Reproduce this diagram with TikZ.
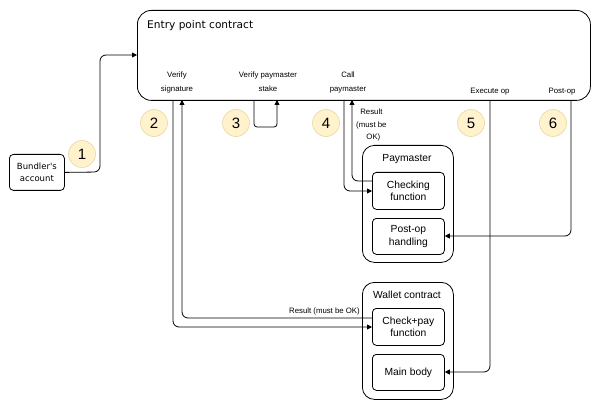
\documentclass[tikz,border=0pt]{standalone}
\usepackage{fontspec}
\setmainfont{Liberation Sans}
\newfontfamily\dvs{DejaVu Sans}
\usetikzlibrary{arrows.meta}
\definecolor{numfill}{HTML}{FFF2CC}
\definecolor{numdraw}{HTML}{E8D9A0}
\tikzset{
  box/.style={draw=black, line width=0.8pt, rounded corners=6pt, align=center, inner sep=0pt},
  inbox/.style={draw=black, line width=0.8pt, rounded corners=4pt, align=center, inner sep=0pt, font=\fontsize{10.3}{12.5}\selectfont},
  num/.style={circle, fill=numfill, draw=numdraw, line width=0.6pt, minimum size=27pt, inner sep=0pt, font=\fontsize{15}{15}\selectfont},
  lbl/.style={font=\fontsize{7.8}{14}\selectfont, align=center, inner sep=0pt},
  conn/.style={draw=black, line width=0.8pt, rounded corners=6pt, -{Triangle[length=5pt,width=5pt]}},
  connr/.style={draw=black, line width=0.8pt, rounded corners=3pt, -{Triangle[length=5pt,width=5pt]}},
}
\begin{document}
\begin{tikzpicture}[x=1pt,y=-1pt]
\useasboundingbox (0,0) rectangle (600,409);
% entry point
\node[box, rounded corners=14pt, minimum width=453pt, minimum height=90pt, anchor=north west] (ep) at (137,10) {};
\node[anchor=north west, inner sep=0pt, font=\dvs\fontsize{10.6}{13}\selectfont] (eptitle) at (147,20) {Entry point contract};
\node[lbl] (vsig) at (177,82) {Verify\\signature};
\node[lbl] (vstake) at (268,82) {Verify paymaster\\stake};
\node[lbl] (callpm) at (348,82) {Call\\paymaster};
\node[lbl] (exop) at (490,92) {Execute op};
\node[lbl] (postop) at (562,92) {Post-op};
% bundler
\node[box, rounded corners=4pt, minimum width=55pt, minimum height=36pt, anchor=north west, font=\dvs\fontsize{8.5}{12}\selectfont] (bund) at (9,154) {Bundler's\\account};
% numbers
\node[num] (n1) at (82,154) {1};
\node[num] (n2) at (154,123) {2};
\node[num] (n3) at (236,123) {3};
\node[num] (n4) at (326,123) {4};
\node[num] (n5) at (471,123) {5};
\node[num] (n6) at (553,123) {6};
% paymaster
\node[box, rounded corners=12pt, minimum width=91pt, minimum height=117pt, anchor=north west] (pm) at (362,145) {};
\node[font=\fontsize{10.3}{12}\selectfont, inner sep=0pt] (pmt) at (407,159) {Paymaster};
\node[inbox, minimum width=72pt, minimum height=37pt, anchor=north west] (chk) at (372,172) {Checking\\function};
\node[inbox, minimum width=72pt, minimum height=36pt, anchor=north west] (poh) at (372,218) {Post-op\\handling};
% wallet
\node[box, rounded corners=12pt, minimum width=91pt, minimum height=117pt, anchor=north west] (wal) at (362,282) {};
\node[font=\fontsize{10.3}{12}\selectfont, inner sep=0pt] (walt) at (407,295) {Wallet contract};
\node[inbox, minimum width=72pt, minimum height=37pt, anchor=north west] (cp) at (372,308) {Check+pay\\function};
\node[inbox, minimum width=72pt, minimum height=36pt, anchor=north west] (mb) at (372,354) {Main body};
% connectors
\draw[conn] (bund.east) -- (100,172) -- (100,55) -- (ep.west |- 0,55);
\draw[conn] (173,100) -- (173,327) -- (cp.west |- 0,327);
\draw[conn] (cp.west |- 0,318) -- (182,318) -- (182,100);
\node[lbl, anchor=south east] (res1) at (360,315) {Result (must be OK)};
\draw[connr] (254,100) -- (254,127) -- (277,127) -- (277,100);
\draw[conn] (344,100) -- (344,191) -- (chk.west |- 0,191);
\draw[conn] (chk.west |- 0,181) -- (352,181) -- (352,100);
\node[lbl, font=\fontsize{7.8}{12.5}\selectfont, anchor=north west] (res2) at (356,109) {Result\\(must be\\\hspace*{4pt}OK)};
\draw[conn] (490,100) -- (490,372) -- (mb.east |- 0,372);
\draw[conn] (571,100) -- (571,236) -- (poh.east |- 0,236);
\end{tikzpicture}
\end{document}
